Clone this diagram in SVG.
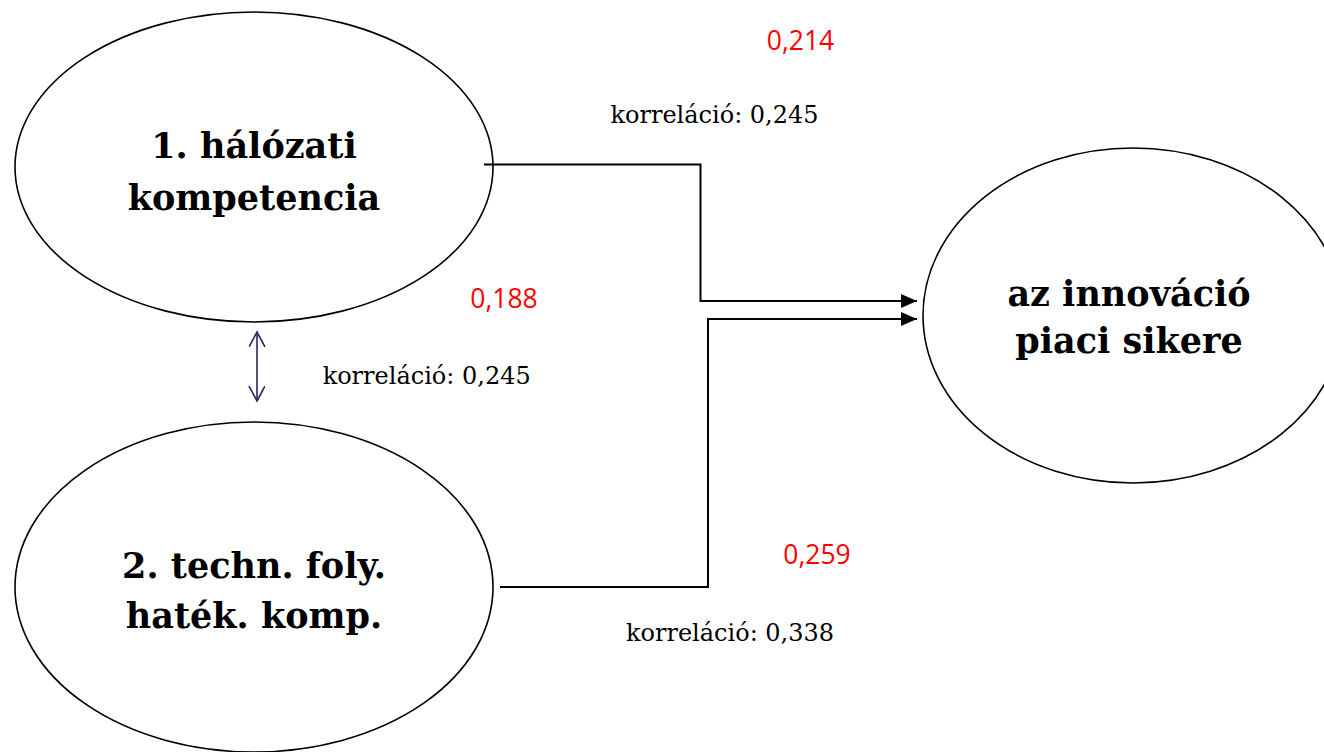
<svg xmlns="http://www.w3.org/2000/svg" width="1324" height="752" viewBox="0 0 1324 752">
<style>
.node{fill:#fff;stroke:#000;stroke-width:1.6}
.lbl{font-family:"DejaVu Serif","Liberation Serif",serif;font-weight:bold;font-size:35px;text-anchor:middle;fill:#000}
.corr{font-family:"DejaVu Serif","Liberation Serif",serif;font-size:24px;text-anchor:middle;fill:#000}
.coef{font-family:"Open Sans","Liberation Sans",sans-serif;font-size:26.5px;text-anchor:middle;fill:#ff0000}
.conn{fill:none;stroke:#000;stroke-width:2}
.dbl{fill:none;stroke:#262660;stroke-width:1.6}
</style>
<defs>
<marker id="arr" markerWidth="16" markerHeight="14" refX="16" refY="7" orient="auto" markerUnits="userSpaceOnUse">
<path d="M0,0 L16,7 L0,14 Z" fill="#000"/>
</marker>
<marker id="open" markerWidth="20" markerHeight="20" refX="15" refY="8" orient="auto-start-reverse" markerUnits="userSpaceOnUse">
<path d="M0,0 L15,8 L0,16" fill="none" stroke="#262660" stroke-width="1.6"/>
</marker>
</defs>
<g id="n1">
<ellipse class="node" cx="254" cy="167" rx="239" ry="155"/>
<text class="lbl" x="254" y="158">1. hálózati</text>
<text class="lbl" x="254" y="210">kompetencia</text>
</g>
<g id="n2">
<ellipse class="node" cx="254" cy="587" rx="239" ry="165"/>
<text class="lbl" x="254" y="578">2. techn. foly.</text>
<text class="lbl" x="254" y="628">haték. komp.</text>
</g>
<g id="n3">
<ellipse class="node" cx="1133" cy="315.5" rx="210" ry="167.5"/>
<text class="lbl" x="1129" y="306">az innováció</text>
<text class="lbl" x="1129" y="353">piaci sikere</text>
</g>
<g id="connectors">
<polyline class="conn" points="484,164.5 700.5,164.5 700.5,301 917,301" marker-end="url(#arr)"/>
<polyline class="conn" points="500,587 708,587 708,319 917,319" marker-end="url(#arr)"/>
<line class="dbl" x1="257" y1="332" x2="257" y2="401" marker-start="url(#open)" marker-end="url(#open)"/>
</g>
<g id="labels">
<text class="coef" x="800.5" y="50">0,214</text>
<text class="corr" x="714.5" y="123">korreláció: 0,245</text>
<text class="coef" x="504" y="308">0,188</text>
<text class="corr" x="426.7" y="384">korreláció: 0,245</text>
<text class="coef" x="817" y="564">0,259</text>
<text class="corr" x="730" y="641">korreláció: 0,338</text>
</g>
</svg>
